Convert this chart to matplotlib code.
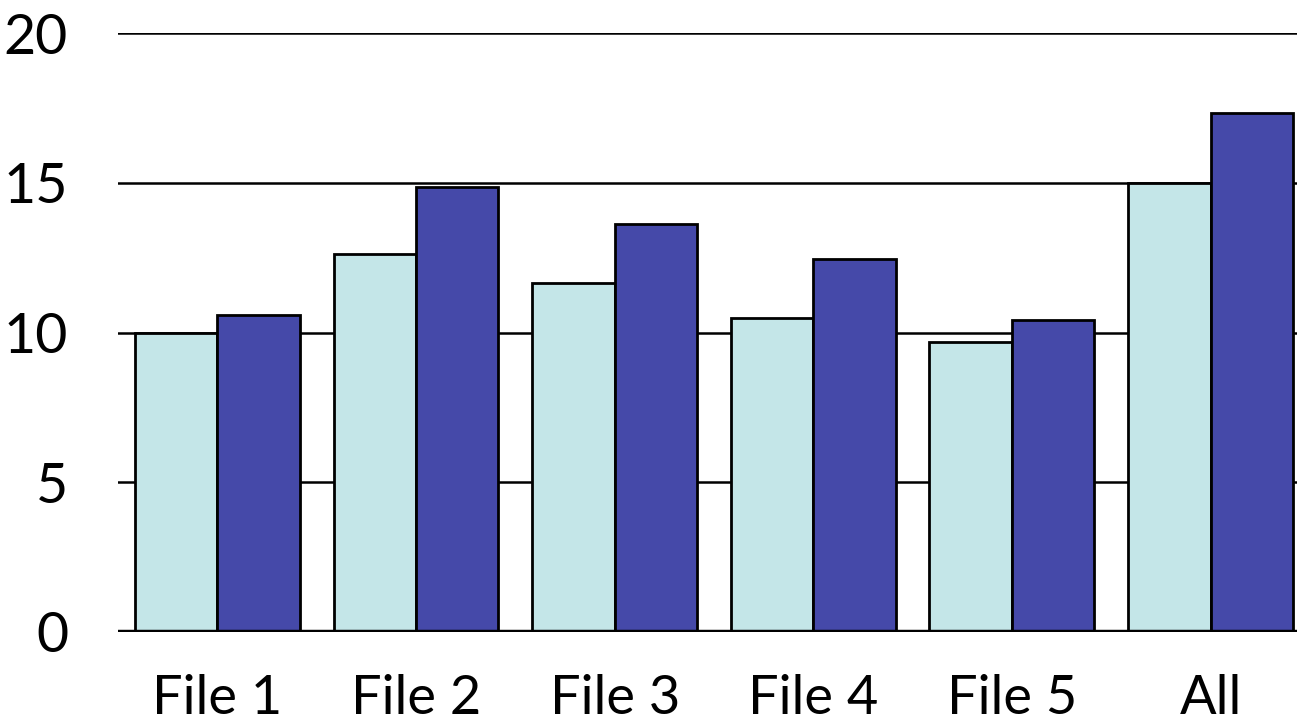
import numpy as np
import matplotlib.pyplot as plt

plt.rcParams['font.family'] = ['Lato', 'DejaVu Sans']

categories = ['File 1', 'File 2', 'File 3', 'File 4', 'File 5', 'All']
series_a = [10.0, 12.62, 11.65, 10.48, 9.68, 14.99]
series_b = [10.58, 14.86, 13.62, 12.45, 10.42, 17.33]
yticks = [0, 5, 10, 15, 20]

light = '#C4E6E8'
dark = '#4549A9'

fig = plt.figure(figsize=(12.97, 7.22), dpi=100)
ax = fig.add_axes([118 / 1297, 90 / 722, 1179 / 1297, 599 / 722])

x = np.arange(len(categories))
w = 0.415
ax.bar(x - w / 2, series_a, w, color=light, edgecolor='black', linewidth=2.0, zorder=3)
ax.bar(x + w / 2, series_b, w, color=dark, edgecolor='black', linewidth=2.0, zorder=3)

ax.set_ylim(0, 20)
ax.set_xlim(-0.5, 5.435)
ax.set_yticks(yticks)
ax.set_xticks(x)
ax.set_xticklabels(categories)

for v in yticks[1:]:
    ax.axhline(v, color='black', linewidth=1.8, zorder=1)
ax.axhline(0, color='black', linewidth=3.2, zorder=4)

for s in ax.spines.values():
    s.set_visible(False)

ax.tick_params(axis='y', length=0, pad=36, labelsize=40)
ax.tick_params(axis='x', length=0, pad=30, labelsize=39)

fig.savefig('out.png', dpi=100)
